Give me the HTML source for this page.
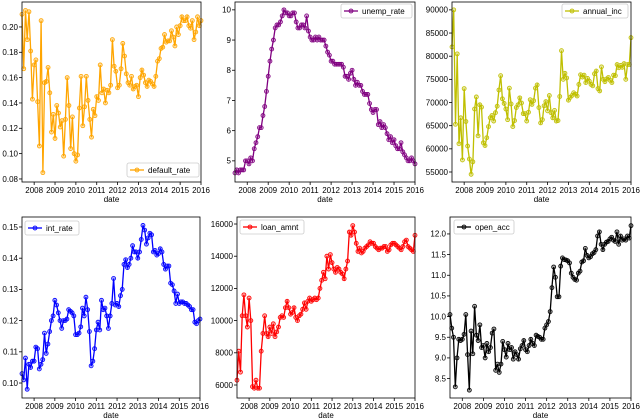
<!DOCTYPE html>
<html><head><meta charset="utf-8"><style>
body{margin:0;background:#fff;}
svg{display:block;font-family:"Liberation Sans","DejaVu Sans",sans-serif;}
</style></head><body>
<svg id="c" width="640" height="419" viewBox="0 0 640 419"></svg>
<script>
const startYear = 2007 + 5/12;
const defaultRate = [.21,.167,.213,.19,.212,.181,.143,
.17,.174,.141,.106,.205,.085,.156,.157,.168,.148,.117,.131,
.112,.138,.132,.121,.126,.098,.127,.16,.138,.104,.129,.1,
.094,.099,.136,.161,.122,.137,.161,.142,.127,.113,.135,.13,
.145,.142,.17,.148,.151,.14,.15,.148,.154,.19,.169,.165,
.152,.154,.167,.187,.177,.163,.156,.154,.161,.151,.153,.154,
.145,.16,.166,.162,.156,.153,.158,.157,.155,.153,.161,.173,
.175,.183,.184,.194,.188,.189,.189,.197,.192,.185,.2,.194,
.201,.208,.205,.205,.208,.201,.199,.205,.19,.196,.208,.201,.205];
const unempRate = [4.6,4.7,4.6,4.7,4.7,4.7,5.0,
5.0,4.9,5.1,5.0,5.4,5.6,5.8,6.1,6.1,6.5,6.8,7.3,
7.8,8.3,8.7,9.0,9.4,9.5,9.5,9.6,9.8,10.0,9.9,9.9,
9.8,9.8,9.9,9.9,9.6,9.4,9.4,9.5,9.5,9.4,9.8,9.3,
9.1,9.0,9.0,9.1,9.0,9.1,9.0,9.0,9.0,8.8,8.6,8.5,
8.3,8.3,8.2,8.2,8.2,8.2,8.2,8.1,7.8,7.8,7.7,7.9,
8.0,7.7,7.5,7.6,7.5,7.5,7.3,7.2,7.2,7.2,6.9,6.7,
6.6,6.7,6.7,6.2,6.3,6.1,6.2,6.1,5.9,5.7,5.8,5.6,
5.7,5.5,5.4,5.4,5.6,5.3,5.2,5.1,5.0,5.0,5.1,5.0,4.9];
const annualInc = [82000,90000,65300,80500,61100,66700,57600,
73000,65900,60600,57800,54500,57200,68600,71200,62800,69500,69000,61300,
60700,62400,64800,66700,67200,66000,67800,69200,72700,75800,70800,69800,
68600,66300,73100,69700,64800,66100,68900,69500,71000,69900,67600,67600,
66000,67900,70600,69600,70400,73100,73800,68900,65600,66300,69300,70200,
68200,71500,67800,66700,68300,66000,66100,71300,81200,75000,76300,75300,
70500,71100,71500,72100,71800,71400,73900,76000,75500,75900,74300,75200,
74600,73900,73600,76200,76800,73000,72500,77700,75000,74500,75100,75400,
74800,74300,75900,75800,78200,77500,78000,77600,78400,75000,78200,78200,84000];
const intRate = [.103,.101,.108,.098,.106,.105,.107,
.107,.1115,.111,.1045,.106,.1075,.116,.1095,.1125,.1165,.12,.1215,
.1265,.125,.1225,.12,.1175,.12,.12,.1205,.1235,.123,.1225,.1215,
.1155,.1155,.116,.118,.124,.1215,.1275,.1235,.1165,.1055,.107,.111,
.117,.1195,.117,.1265,.1235,.124,.1215,.1175,.1215,.1255,.1335,.125,
.1255,.1245,.128,.13,.138,.1395,.137,.138,.14,.144,.142,.142,
.14,.142,.146,.1505,.149,.1445,.1465,.148,.1475,.142,.1425,.141,
.1415,.143,.142,.138,.1365,.1375,.1375,.132,.1315,.1295,.1255,.1285,
.1255,.126,.126,.1255,.1255,.125,.1245,.1235,.1235,.1195,.119,.12,.1205];
const loanAmnt = [6300,8100,6800,10300,11600,10300,9600,
11400,10000,5900,5800,6300,5800,5800,8100,9200,10300,9200,9000,
9600,9200,9800,9000,9300,9600,10200,10300,10200,10800,11200,10800,
10400,10500,10800,10200,10000,10300,10400,10700,11100,10700,11200,11400,
11200,11300,11400,11300,11400,12000,12500,13000,12600,14000,13200,14100,
13600,13200,13000,13300,13200,13000,12900,12600,13200,13700,15500,15300,
15900,15500,14800,14300,14500,14200,14300,14500,14600,14700,14900,14800,
14800,14600,14500,14400,14500,14500,14600,14600,14300,14400,14700,14800,
14800,14700,14600,14500,14400,14600,14900,15000,14600,14500,14400,14300,15300];
const openAcc = [10.05,9.72,9.5,8.3,9.0,9.45,9.42,
9.45,9.57,10.05,9.08,8.22,9.65,9.1,10.25,9.55,9.42,9.8,9.25,
9.3,9.0,9.35,9.15,9.25,9.6,9.7,8.7,8.85,8.65,8.85,9.4,
9.2,9.02,9.35,9.2,9.25,8.97,9.15,9.08,8.97,9.22,9.3,9.42,
9.2,9.15,9.3,9.45,9.35,9.3,9.55,9.52,9.5,9.45,9.45,9.72,
9.8,9.88,10.12,10.7,11.2,10.95,10.48,10.48,11.22,11.42,11.38,11.37,
11.35,11.3,11.05,10.95,10.9,10.88,11.05,11.1,11.32,11.35,11.65,11.48,
11.42,11.45,11.52,11.55,11.62,11.95,12.05,11.75,11.62,11.75,11.8,11.82,
11.88,11.92,11.85,11.82,12.05,11.75,11.95,11.85,11.88,11.85,11.95,11.9,12.2];
const yearTicks = [2008,2009,2010,2011,2012,2013,2014,2015,2016];
const ticksDefault = [0.08,0.10,0.12,0.14,0.16,0.18,0.20];
const ticksUnemp = [5,6,7,8,9,10];
const ticksInc = [55000,60000,65000,70000,75000,80000,85000,90000];
const ticksInt = [0.10,0.11,0.12,0.13,0.14,0.15];
const ticksLoan = [6000,8000,10000,12000,14000,16000];
const ticksOpen = [8.5,9.0,9.5,10.0,10.5,11.0,11.5,12.0];

const NS='http://www.w3.org/2000/svg';
const svg=document.getElementById('c');
function mk(tag,attrs,parent){const e=document.createElementNS(NS,tag);for(const k in attrs)e.setAttribute(k,attrs[k]);(parent||svg).appendChild(e);return e;}

const panels=[
 {name:'default-rate',label:'default_rate',data:defaultRate,ticks:ticksDefault,fmt:v=>v.toFixed(2),color:'#ffa500',x0:22,x1:201,y0:2,y1:182,ymin:0.0776,ymax:0.2197,leg:{x:127,y:163,w:72}},
 {name:'unemp-rate',label:'unemp_rate',data:unempRate,ticks:ticksUnemp,fmt:v=>String(v),color:'#800080',x0:235,x1:415,y0:2,y1:182,ymin:4.30,ymax:10.26,leg:{x:341,y:4,w:71}},
 {name:'annual-inc',label:'annual_inc',data:annualInc,ticks:ticksInc,fmt:v=>String(v),color:'#bfbf00',x0:452,x1:631,y0:2,y1:182,ymin:52840,ymax:91700,leg:{x:562,y:4,w:66}},
 {name:'int-rate',label:'int_rate',data:intRate,ticks:ticksInt,fmt:v=>v.toFixed(2),color:'#0000ff',x0:22,x1:200,y0:217,y1:398,ymin:0.0952,ymax:0.1532,leg:{x:25,y:221,w:54}},
 {name:'loan-amnt',label:'loan_amnt',data:loanAmnt,ticks:ticksLoan,fmt:v=>String(v),color:'#ff0000',x0:237,x1:415,y0:217,y1:398,ymin:5193,ymax:16435,leg:{x:240,y:220,w:64}},
 {name:'open-acc',label:'open_acc',data:openAcc,ticks:ticksOpen,fmt:v=>v.toFixed(1),color:'#000000',x0:450,x1:631,y0:217,y1:398,ymin:8.03,ymax:12.41,leg:{x:454,y:220,w:60}}
];

panels.forEach(p=>{
 const g=mk('g',{});
 
 
 const xs=t=>p.x0+(t-startYear)/(2016-startYear)*(p.x1-p.x0);
 const ys=v=>p.y1-(v-p.ymin)/(p.ymax-p.ymin)*(p.y1-p.y0);
 p.ticks.forEach(v=>{
  const y=ys(v);
  const l=mk('line',{x1:p.x0-3,x2:p.x0,y1:y,y2:y,stroke:'#000','stroke-width':0.8},g);
  
  
  const t=mk('text',{x:p.x0-4,y:y+2.8,'font-size':8,'text-anchor':'end',fill:'#000'},g);
  t.textContent=p.fmt(v);
  
  
 });
 yearTicks.forEach(yr=>{
  const x=xs(yr);
  mk('line',{x1:x,x2:x,y1:p.y1,y2:p.y1+3,stroke:'#000','stroke-width':0.8},g);
  const t=mk('text',{x:x,y:p.y1+11,'font-size':8,'text-anchor':'middle',fill:'#000'},g);
  t.textContent=yr;
  
  
 });
 const xl=mk('text',{x:(p.x0+p.x1)/2,y:p.y1+20,'font-size':8,'text-anchor':'middle',fill:'#000'},g);
 xl.textContent='date';
 
 
 const pts=p.data.map((v,i)=>[xs(startYear+i/12),ys(v)]);
 const line=mk('polyline',{points:pts.map(q=>q[0].toFixed(1)+','+q[1].toFixed(1)).join(' '),fill:'none',stroke:p.color,'stroke-width':1.3},g);
 
 
 pts.forEach(q=>{
  const c=mk('circle',{cx:q[0],cy:q[1],r:2,fill:p.color,'fill-opacity':0.35,stroke:p.color,'stroke-width':0.8},g);
  
  
 });
 const fr=mk('rect',{x:p.x0,y:p.y0,width:p.x1-p.x0,height:p.y1-p.y0,fill:'none',stroke:'#000','stroke-width':0.8},g);
 
 
 const L=p.leg;
 const lg=mk('g',{},g);
 
 
 mk('rect',{x:L.x,y:L.y,width:L.w,height:14,rx:2,fill:'#fff','fill-opacity':0.8,stroke:'#ccc','stroke-width':0.8},lg);
 mk('line',{x1:L.x+3,x2:L.x+17,y1:L.y+7,y2:L.y+7,stroke:p.color,'stroke-width':1.3},lg);
 mk('circle',{cx:L.x+10,cy:L.y+7,r:2,fill:p.color,'fill-opacity':0.35,stroke:p.color,'stroke-width':0.8},lg);
 const lt=mk('text',{x:L.x+21,y:L.y+10,'font-size':8,fill:'#000'},lg);
 lt.textContent=p.label;
 
 
});
</script>
</body></html>
